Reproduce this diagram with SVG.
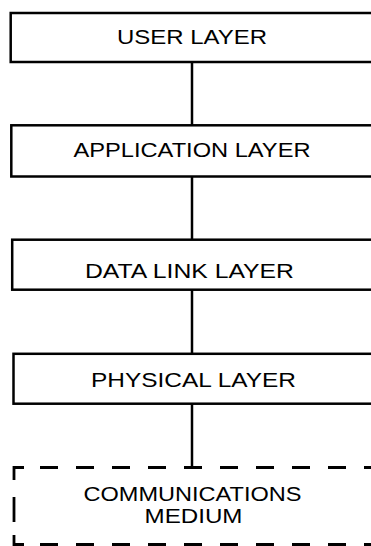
<svg xmlns="http://www.w3.org/2000/svg" width="371" height="546" viewBox="0 0 371 546">
  <style>
    .box { fill: #fff; stroke: #000; stroke-width: 2.5; }
    .wire { stroke: #000; stroke-width: 2.5; fill: none; }
    .dash { stroke: #000; stroke-width: 2.8; fill: none; }
    .lbl { font-family: "Liberation Sans", Arial, Helvetica, sans-serif; font-size: 21px; fill: #000; }
  </style>
  <rect width="371" height="546" fill="#fff"/>

  <!-- vertical links between the stacked layers -->
  <g id="connectors">
    <line class="wire" x1="192" y1="62" x2="192" y2="125.3"/>
    <line class="wire" x1="192" y1="176.5" x2="192" y2="239.7"/>
    <line class="wire" x1="192" y1="289.7" x2="192" y2="353.8"/>
    <line class="wire" x1="192" y1="403.7" x2="192" y2="467.5"/>
  </g>

  <g id="user-layer">
    <rect class="box" x="10.7" y="13" width="380" height="49"/>
    <text class="lbl" x="117" y="43.5" textLength="150" lengthAdjust="spacingAndGlyphs">USER LAYER</text>
  </g>

  <g id="application-layer">
    <rect class="box" x="11.3" y="125.3" width="380" height="51.2"/>
    <text class="lbl" x="73.5" y="157" textLength="237" lengthAdjust="spacingAndGlyphs">APPLICATION LAYER</text>
  </g>

  <g id="data-link-layer">
    <rect class="box" x="12.2" y="239.7" width="380" height="50"/>
    <text class="lbl" x="85" y="277.5" textLength="209" lengthAdjust="spacingAndGlyphs">DATA LINK LAYER</text>
  </g>

  <g id="physical-layer">
    <rect class="box" x="13.5" y="353.8" width="380" height="49.9"/>
    <text class="lbl" x="91" y="387" textLength="205" lengthAdjust="spacingAndGlyphs">PHYSICAL LAYER</text>
  </g>

  <g id="communications-medium">
    <!-- corners and left side -->
    <path class="dash" d="M 14 480 V 467.5 H 24"/>
    <path class="dash" d="M 14 497 V 522"/>
    <path class="dash" d="M 14 535 V 544.5 H 24"/>
    <!-- top and bottom dashed edges -->
    <line class="dash" x1="40" y1="467.5" x2="371" y2="467.5" stroke-dasharray="18 18"/>
    <line class="dash" x1="40" y1="544.5" x2="371" y2="544.5" stroke-dasharray="18 18"/>
    <text class="lbl" x="83.5" y="500.7" textLength="218" lengthAdjust="spacingAndGlyphs">COMMUNICATIONS</text>
    <text class="lbl" x="144.5" y="523.3" textLength="98" lengthAdjust="spacingAndGlyphs">MEDIUM</text>
  </g>
</svg>
